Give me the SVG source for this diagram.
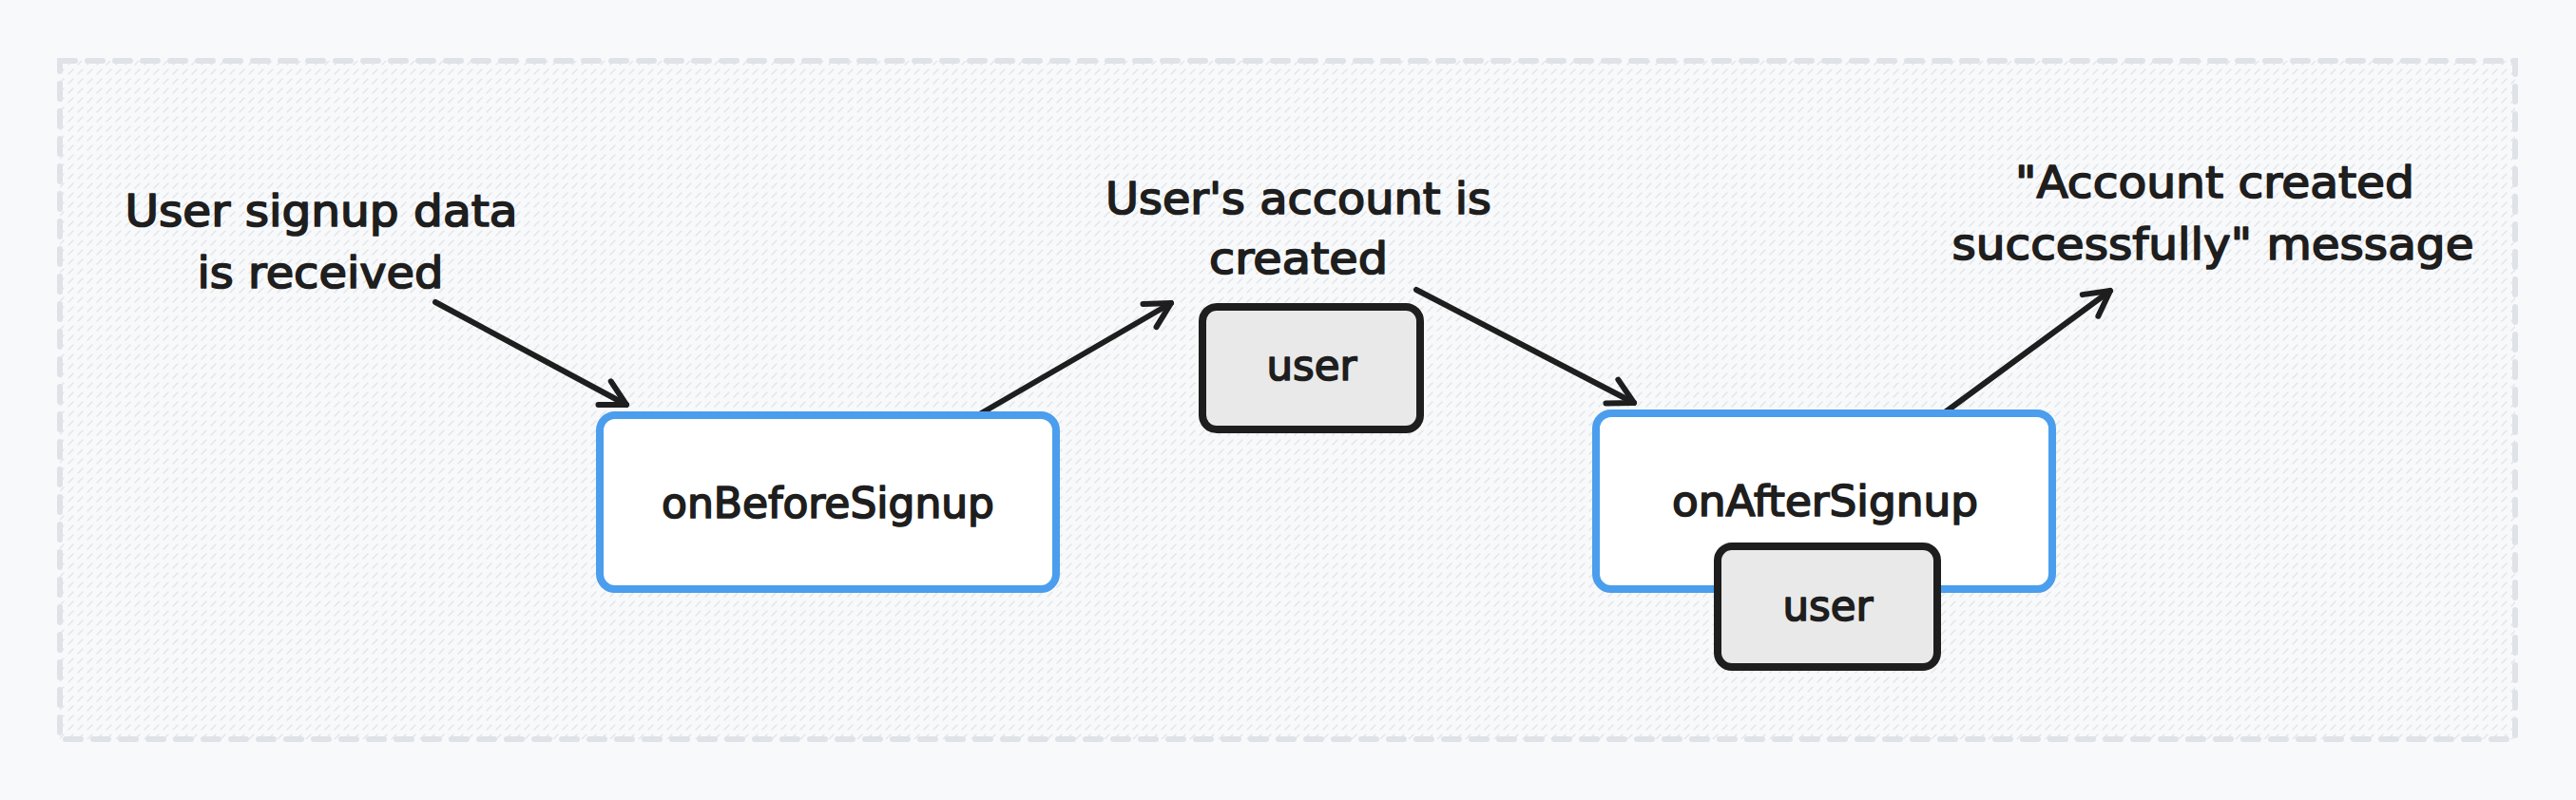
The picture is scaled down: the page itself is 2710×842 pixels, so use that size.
<svg xmlns="http://www.w3.org/2000/svg" width="2710" height="842" viewBox="0 0 2710 842">
  <defs>
    <pattern id="hatch" patternUnits="userSpaceOnUse" width="10" height="10">
      <path d="M2 8 L7 3" stroke="#e4e6ea" stroke-width="1.6" stroke-linecap="round"/>
    </pattern>
    <marker id="arr" markerUnits="userSpaceOnUse" markerWidth="60" markerHeight="60" refX="0" refY="0" orient="auto" viewBox="-40 -30 60 60" overflow="visible">
      <path d="M -26 -14 L 0 0 L -26 14" fill="none" stroke="#1e1e1e" stroke-width="6" stroke-linecap="round" stroke-linejoin="round"/>
    </marker>
    <style>
      .t { font-family: "DejaVu Sans", "Noto Sans", sans-serif; fill: #1e1e1e; text-anchor: middle; stroke: #1e1e1e; stroke-width: 1.7; stroke-linejoin: round; }
      .ann { font-size: 46px; }
      .lab { font-size: 44px; }
      .blue { fill: #ffffff; stroke: #4a9eed; stroke-width: 8; }
      .gray { fill: #e9e9e9; stroke: #1e1e1e; stroke-width: 8; }
      .conn { fill: none; stroke: #1e1e1e; stroke-width: 6; stroke-linecap: round; marker-end: url(#arr); }
    </style>
  </defs>
  <rect x="0" y="0" width="2710" height="842" fill="#f8f9fb"/>
  <g id="frame">
    <rect x="63" y="64" width="2583" height="714" fill="url(#hatch)" stroke="#dfe2e7" stroke-width="6" stroke-dasharray="16 13" stroke-linecap="round"/>
  </g>

  <g id="connectors">
    <path class="conn" d="M 458 318 L 659 426"/>
    <path class="conn" d="M 1027 438 L 1232 319"/>
    <path class="conn" d="M 1490 305 L 1719 424"/>
    <path class="conn" d="M 2042 437 L 2220 306"/>
  </g>

  <g id="note-received">
    <text class="t ann" x="338" y="238" textLength="413" lengthAdjust="spacingAndGlyphs">User signup data</text>
    <text class="t ann" x="337" y="303" textLength="259" lengthAdjust="spacingAndGlyphs">is received</text>
  </g>

  <g id="node-onBeforeSignup">
    <rect class="blue" x="631" y="437" width="480" height="183" rx="16"/>
    <text class="t lab" x="871" y="545" textLength="350" lengthAdjust="spacingAndGlyphs">onBeforeSignup</text>
  </g>

  <g id="note-created">
    <text class="t ann" x="1366" y="225" textLength="406" lengthAdjust="spacingAndGlyphs">User's account is</text>
    <text class="t ann" x="1366" y="288" textLength="188" lengthAdjust="spacingAndGlyphs">created</text>
  </g>

  <g id="node-user-1">
    <rect class="gray" x="1265" y="323" width="229" height="129" rx="15"/>
    <text class="t lab" x="1380" y="400" textLength="95" lengthAdjust="spacingAndGlyphs">user</text>
  </g>

  <g id="node-onAfterSignup">
    <rect class="blue" x="1679" y="435" width="480" height="185" rx="16"/>
    <text class="t lab" x="1920" y="543" textLength="322" lengthAdjust="spacingAndGlyphs">onAfterSignup</text>
  </g>

  <g id="node-user-2">
    <rect class="gray" x="1807" y="575" width="231" height="127" rx="15"/>
    <text class="t lab" x="1923" y="653" textLength="95" lengthAdjust="spacingAndGlyphs">user</text>
  </g>

  <g id="note-message">
    <text class="t ann" x="2330" y="208" textLength="420" lengthAdjust="spacingAndGlyphs">"Account created</text>
    <text class="t ann" x="2328" y="273" textLength="549" lengthAdjust="spacingAndGlyphs">successfully" message</text>
  </g>
</svg>
